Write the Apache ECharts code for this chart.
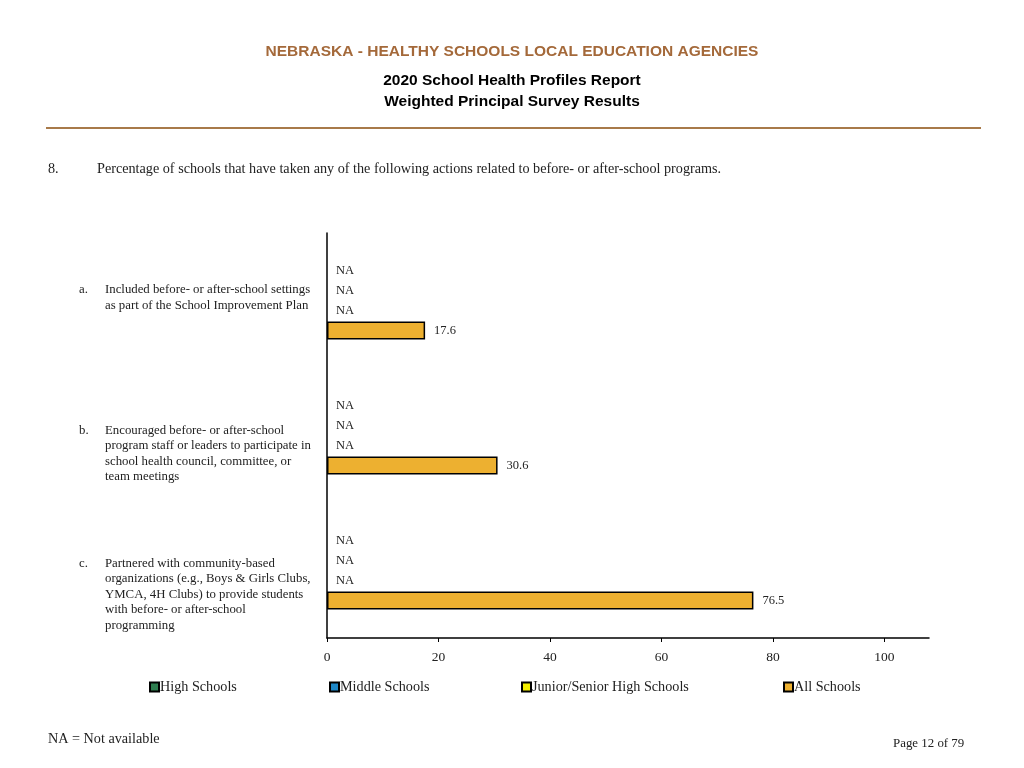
<!DOCTYPE html>
<html>
<head>
<meta charset="utf-8">
<script src="https://cdn.jsdelivr.net/npm/echarts@6/dist/echarts.min.js"></script>
<style>
html,body{margin:0;padding:0;background:#fff;}
#chart{width:1024px;height:768px;}
</style>
</head>
<body>
<div id="chart"></div>
<script>
const letters = ['a.', 'b.', 'c.'];
const categories = [
  'Included before- or after-school settings\nas part of the School Improvement Plan',
  'Encouraged before- or after-school\nprogram staff or leaders to participate in\nschool health council, committee, or\nteam meetings',
  'Partnered with community-based\norganizations (e.g., Boys & Girls Clubs,\nYMCA, 4H Clubs) to provide students\nwith before- or after-school\nprogramming'
];
const seriesNames = ['High Schools', 'Middle Schools', 'Junior/Senior High Schools', 'All Schools'];
const highSchools = [null, null, null];
const middleSchools = [null, null, null];
const juniorSeniorHigh = [null, null, null];
const allSchools = [17.6, 30.6, 76.5];
const xTicks = [0, 20, 40, 60, 80, 100];

const colors = ['#2E7D4F', '#1E88C8', '#F5F000', '#EDB030'];
const labelShift = [-3, 18, 24];
const legendLeft = [144, 324, 516, 778];
const SERIF = '"Liberation Serif", "Times New Roman", serif';
const SANS = '"Liberation Sans", Arial, sans-serif';
const CAT_FS = 12.8;
const CAT_LH = 15.4;

function toData(arr) {
  return arr.map(v => v === null
    ? { value: 0, itemStyle: { borderWidth: 0 }, label: { formatter: 'NA' } }
    : v);
}

const yData = categories.map((c, i) => {
  const lines = c.split('\n');
  const txt = lines.map((ln, k) => (k === 0 ? '{l|' + letters[i] + '}' : '{l| }') + '{t|' + ln + '}').join('\n');
  return {
    value: txt,
    textStyle: {
      align: 'left',
      verticalAlign: 'middle',
      fontFamily: SERIF,
      fontSize: CAT_FS,
      color: '#222',
      lineHeight: CAT_LH,
      padding: [labelShift[i] * 2, 0, 0, 0],
      rich: {
        l: { width: 26, align: 'left', fontFamily: SERIF, fontSize: CAT_FS, color: '#222', lineHeight: CAT_LH },
        t: { align: 'left', fontFamily: SERIF, fontSize: CAT_FS, color: '#222', lineHeight: CAT_LH }
      }
    }
  };
});

const allData = [highSchools, middleSchools, juniorSeniorHigh, allSchools];
const series = seriesNames.map((name, i) => ({
  name: name,
  type: 'bar',
  data: toData(allData[i]),
  barWidth: 18,
  barGap: '11%',
  barCategoryGap: '42%',
  itemStyle: { color: colors[i], borderColor: '#000', borderWidth: 1.5 },
  label: {
    show: true,
    position: 'right',
    distance: 9,
    fontFamily: SERIF,
    fontSize: 12.5,
    color: '#222',
    formatter: p => (typeof p.value === 'number' ? p.value.toFixed(1) : p.value)
  },
  emphasis: { disabled: true }
}));

const legends = seriesNames.map((name, i) => ({
  data: [name],
  left: legendLeft[i],
  top: 675,
  icon: 'rect',
  itemWidth: 9,
  itemHeight: 9,
  itemGap: 0,
  textStyle: { fontFamily: SERIF, fontSize: 14.2, color: '#222', padding: [0, 0, 0, -4] },
  selectedMode: false
}));

const chart = echarts.init(document.getElementById('chart'));
chart.setOption({
  animation: false,
  backgroundColor: '#fff',
  title: [
    { text: 'NEBRASKA - HEALTHY SCHOOLS LOCAL EDUCATION AGENCIES', left: 'center', top: 39,
      textStyle: { fontFamily: SANS, fontSize: 15.5, fontWeight: 'bold', color: '#A4693A' } },
    { text: '2020 School Health Profiles Report', left: 'center', top: 68,
      textStyle: { fontFamily: SANS, fontSize: 15.5, fontWeight: 'bold', color: '#000' } },
    { text: 'Weighted Principal Survey Results', left: 'center', top: 89,
      textStyle: { fontFamily: SANS, fontSize: 15.5, fontWeight: 'bold', color: '#000' } },
    { text: '8.', left: 43, top: 157,
      textStyle: { fontFamily: SERIF, fontSize: 14.2, fontWeight: 'normal', color: '#222' } },
    { text: 'Percentage of schools that have taken any of the following actions related to before- or after-school programs.', left: 92, top: 157,
      textStyle: { fontFamily: SERIF, fontSize: 14.2, fontWeight: 'normal', color: '#222' } },
    { text: 'NA = Not available', left: 43, top: 727,
      textStyle: { fontFamily: SERIF, fontSize: 14.2, fontWeight: 'normal', color: '#222' } },
    { text: 'Page 12 of 79', left: 888, top: 732,
      textStyle: { fontFamily: SERIF, fontSize: 12.9, fontWeight: 'normal', color: '#222' } }
  ],
  graphic: [
    { type: 'line', shape: { x1: 46, y1: 128, x2: 981, y2: 128 }, style: { stroke: '#A87A4A', lineWidth: 2 } }
  ],
  legend: legends,
  grid: { left: 327, right: 95, top: 233, bottom: 130, containLabel: false, outerBoundsMode: 'none' },
  xAxis: {
    type: 'value',
    min: 0,
    max: 108,
    interval: 20,
    splitLine: { show: false },
    axisLine: { show: true, lineStyle: { color: '#000', width: 1.5 } },
    axisTick: { show: true, length: 4, customValues: xTicks, lineStyle: { color: '#000' } },
    axisLabel: { customValues: xTicks, fontFamily: SERIF, fontSize: 13.5, color: '#222', margin: 12 }
  },
  yAxis: {
    type: 'category',
    inverse: true,
    data: yData,
    axisLine: { show: true, lineStyle: { color: '#000', width: 1.5 } },
    axisTick: { show: false },
    axisLabel: {
      align: 'left',
      margin: 248,
      verticalAlign: 'middle',
      fontFamily: SERIF,
      fontSize: CAT_FS,
      color: '#222',
      lineHeight: CAT_LH
    }
  },
  series: series
});
</script>
</body>
</html>
